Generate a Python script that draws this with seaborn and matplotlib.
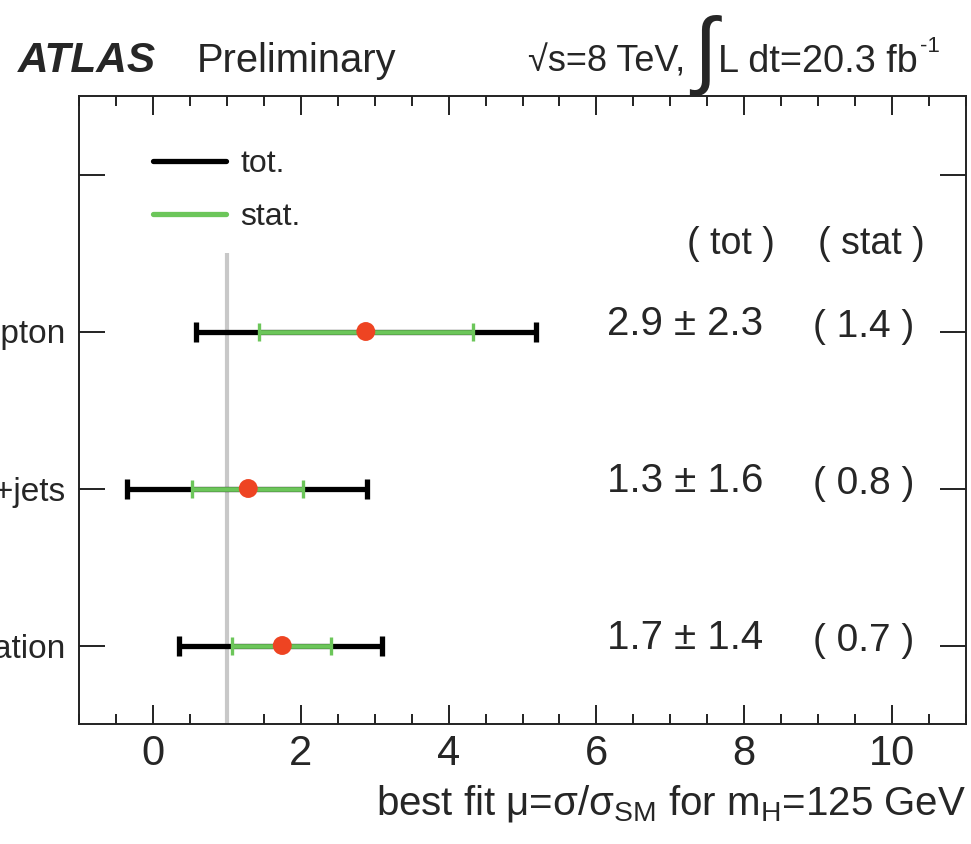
import matplotlib
matplotlib.use("Agg")
import matplotlib.pyplot as plt
from matplotlib.lines import Line2D
from matplotlib.ticker import MultipleLocator
import seaborn as sns
import pandas as pd
import numpy as np

# ---- data ----
channels = ["Combination", "Lepton+jets", "Dilepton"]
mu = [1.75, 1.29, 2.88]
tot_lo = [1.40, 1.64, 2.30]
tot_hi = [1.35, 1.61, 2.30]
stat_lo = [0.68, 0.76, 1.45]
stat_hi = [0.66, 0.74, 1.45]
mu_txt = ["1.7", "1.3", "2.9"]
tot_txt = ["1.4", "1.6", "2.3"]
stat_txt = ["0.7", "0.8", "1.4"]
sm_ref = 1.0
ytick_pos = [0, 1, 2, 3]
ytick_lab = channels + [""]

sns.set_theme(style="ticks")
plt.rcParams["font.family"] = ["Liberation Sans", "DejaVu Sans"]
plt.rcParams["mathtext.fontset"] = "custom"
plt.rcParams["mathtext.rm"] = "Liberation Sans"
plt.rcParams["mathtext.it"] = "Liberation Sans:italic"
plt.rcParams["mathtext.bf"] = "Liberation Sans:bold"

df = pd.DataFrame({"channel": channels, "mu": mu, "y": np.arange(len(channels))})

fig = plt.figure(figsize=(9.71, 8.44), dpi=100)
ax = fig.add_axes([79 / 971, 1 - 724 / 844, 887 / 971, 628 / 844])

BLACK = "#000000"
GREEN = "#6cc65a"
RED = "#ee4422"
GRAY = "#c8c8c8"

ax.vlines(sm_ref, -0.5, 2.5, color=GRAY, lw=3, zorder=1)

ax.errorbar(df["mu"], df["y"], xerr=[tot_lo, tot_hi], fmt="none",
            ecolor=BLACK, elinewidth=3.8, capsize=7, capthick=3.8, zorder=2)
ax.errorbar(df["mu"], df["y"], xerr=[stat_lo, stat_hi], fmt="none",
            ecolor=GREEN, elinewidth=3.4, capsize=6.5, capthick=2.4, zorder=3)
sns.scatterplot(data=df, x="mu", y="y", ax=ax, color=RED, s=185,
                edgecolor="none", zorder=4, legend=False)

ax.set_xlim(-1, 11)
ax.set_ylim(-0.5, 3.5)
ax.xaxis.set_major_locator(MultipleLocator(2))
ax.xaxis.set_minor_locator(MultipleLocator(0.5))
ax.set_yticks(ytick_pos)
ax.set_yticklabels(ytick_lab)
ax.tick_params(axis="x", which="major", direction="in", length=14, width=1.4,
               top=True, labelsize=30, pad=7, color="#222222")
ax.tick_params(axis="x", which="minor", direction="in", length=7, width=1.4,
               top=True, color="#222222")
ax.tick_params(axis="y", which="major", direction="in", length=19, width=1.4,
               right=True, labelsize=24, pad=10, color="#222222")
for s in ax.spines.values():
    s.set_linewidth(1.4)
    s.set_color("#222222")

ax.set_xlabel("best fit μ=σ/σ$_{\\mathregular{SM}}$ for m$_{\\mathregular{H}}$=125 GeV",
              fontsize=29, loc="right", labelpad=7)
ax.set_ylabel("")

# value columns
ytr = ax.get_yaxis_transform()
ax.text(0.785, 2.56, "( tot )", transform=ytr, ha="right", va="center", fontsize=27)
ax.text(0.954, 2.56, "( stat )", transform=ytr, ha="right", va="center", fontsize=27)
for i in range(len(channels)):
    ax.text(0.771, i + 0.05, f"{mu_txt[i]} ± {tot_txt[i]}",
            transform=ytr, ha="right", va="center", fontsize=29)
    ax.text(0.942, i + 0.03, f"( {stat_txt[i]} )",
            transform=ytr, ha="right", va="center", fontsize=28)

# legend
handles = [Line2D([], [], color=BLACK, lw=3.8), Line2D([], [], color=GREEN, lw=3.8)]
ax.legend(handles, ["tot.", "stat."], loc="upper left", bbox_to_anchor=(0.083, 0.916),
          frameon=False, fontsize=23, handlelength=2.3, handletextpad=0.45,
          labelspacing=0.72, borderpad=0, borderaxespad=0)

# header
fig.text(18 / 971, 1 - 72 / 844, "ATLAS", fontsize=30.5, fontweight="bold",
         fontstyle="italic", ha="left", va="baseline")
fig.text(197 / 971, 1 - 72 / 844, "Preliminary", fontsize=28.7, ha="left", va="baseline")
fig.text(528 / 971, 1 - 72 / 844, "√s=8 TeV,", fontsize=26, ha="left", va="baseline")
fig.text(693 / 971, 1 - 78 / 844, "∫", fontsize=62, ha="left", va="baseline")
fig.text(718 / 971, 1 - 72 / 844, "L dt=20.3 fb", fontsize=27.3, ha="left", va="baseline")
fig.text(920 / 971, 1 - 52 / 844, "-1", fontsize=16, ha="left", va="baseline")

fig.savefig("out.png", dpi=100)
